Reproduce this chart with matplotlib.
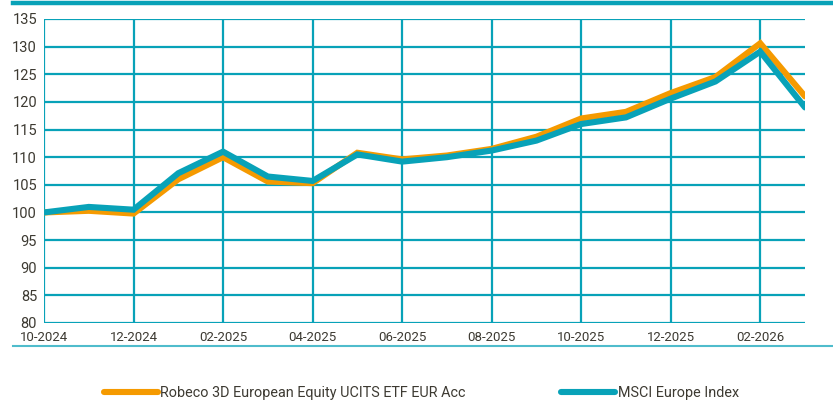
import matplotlib
matplotlib.use("Agg")
import matplotlib.pyplot as plt
from matplotlib.lines import Line2D

months = ["10-2024", "11-2024", "12-2024", "01-2025", "02-2025", "03-2025", "04-2025",
          "05-2025", "06-2025", "07-2025", "08-2025", "09-2025", "10-2025", "11-2025",
          "12-2025", "01-2026", "02-2026", "03-2026"]
fund = [100.0, 100.3, 99.8, 106.0, 110.0, 105.6, 105.3, 110.8, 109.6, 110.3, 111.5,
        113.7, 117.0, 118.2, 121.6, 124.5, 130.6, 121.0]
index = [100.0, 101.0, 100.5, 107.1, 111.0, 106.5, 105.7, 110.5, 109.2, 110.0, 111.2,
         113.0, 116.0, 117.2, 120.6, 123.7, 129.1, 119.0]
yticks = [80, 85, 90, 95, 100, 105, 110, 115, 120, 125, 130, 135]
xtick_labels = months[::2]

ORANGE = "#f59a00"
TEAL = "#08a2b8"
TEXT = "#3d3a32"

plt.rcParams['font.family'] = ['Roboto', 'DejaVu Sans']

W, H = 833, 403
fig = plt.figure(figsize=(W / 100, H / 100), dpi=100)
left, right, top, bottom = 44, 805, 19, 323
ax = fig.add_axes([left / W, 1 - bottom / H, (right - left) / W, (bottom - top) / H])

x = list(range(len(months)))
ax.plot(x, fund, color=ORANGE, lw=4.4, solid_capstyle='round', solid_joinstyle='miter',
        label="Robeco 3D European Equity UCITS ETF EUR Acc", zorder=3)
ax.plot(x, index, color=TEAL, lw=4.4, solid_capstyle='round', solid_joinstyle='miter',
        label="MSCI Europe Index", zorder=4)

ax.set_xlim(0, len(months) - 1)
ax.set_ylim(80, 135)
ax.set_yticks(yticks)
ax.set_xticks(x[::2])
ax.set_xticklabels(xtick_labels)
for s in ax.spines.values():
    s.set_visible(False)
ax.grid(True, color=TEAL, lw=1.6, zorder=1)
ax.set_axisbelow(True)
ax.tick_params(axis='y', length=0, labelsize=10.5, labelcolor=TEXT, pad=5)
ax.tick_params(axis='x', length=0, labelsize=9.5, labelcolor=TEXT, pad=6)

# decorative rules
fig.add_artist(Line2D([13 / W, 1], [1 - 3 / H, 1 - 3 / H], color=TEAL, lw=3.2))
fig.add_artist(Line2D([13 / W, 1], [1 - 346 / H, 1 - 346 / H], color="#4fbccc", lw=1.5))

h1 = Line2D([], [], color=ORANGE, lw=4.4, solid_capstyle='round')
h2 = Line2D([], [], color=TEAL, lw=4.4, solid_capstyle='round')
fig.legend([h1, h2], ["Robeco 3D European Equity UCITS ETF EUR Acc", "MSCI Europe Index"],
           loc='center left', bbox_to_anchor=(104 / W, 1 - 393 / H), ncol=2, frameon=False,
           handlelength=3.75, handletextpad=0.15, columnspacing=6.6, fontsize=10.4,
           labelcolor=TEXT, borderaxespad=0, borderpad=0)

fig.savefig("out.png", dpi=100)
